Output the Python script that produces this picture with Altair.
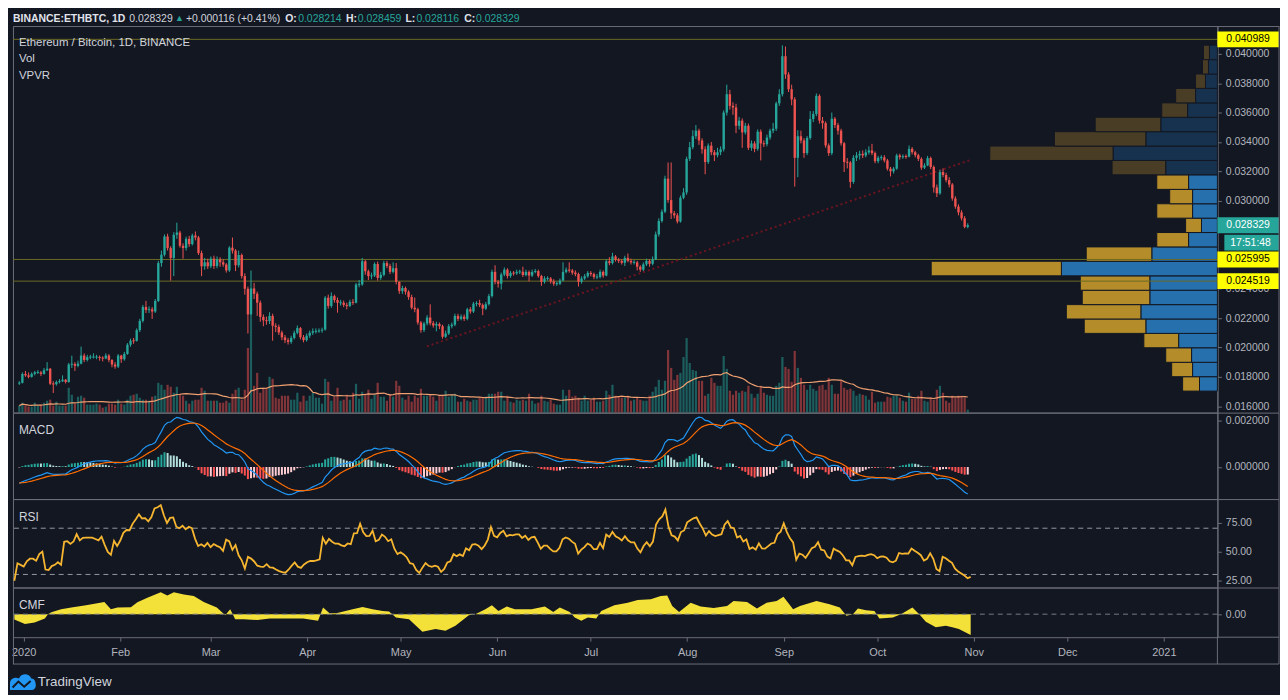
import altair as alt
import numpy as np
import pandas as pd

# ---------------------------------------------------------------- data
# prices in units of 0.0001 BTC, one candle per day from 2019-12-29
FIRST_DAY = "2019-12-29"
FIRST_OPEN = 175.5

close_dec = [176.0, 182.0, 181.0]
high_dec = [177.0, 183.0, 184.0]
low_dec = [174.5, 175.5, 180.0]
vol_dec = [7, 10, 7]

close_jan = [180.0, 182.0, 183.0, 183.0, 182.0, 184.5, 185.5, 175.3, 175.0, 176.5, 177.0, 178.0, 176.5, 188.4, 188.8, 187.5, 189.0, 194.5, 191.5, 193.4, 193.5, 193.5, 193.5, 193.0, 192.5, 194.5, 191.5, 188.4, 187.0, 194.5, 192.0]
high_jan = [183, 183, 184, 184.5, 184, 186, 190, 186, 177, 177.5, 178.5, 181, 178.5, 189.5, 194.4, 190, 191, 200.6, 196, 195, 195, 196, 195, 194.5, 194, 196, 195.5, 192, 190, 195.5, 195]
low_jan = [179, 179.5, 181, 182, 180.5, 181.5, 184, 174.5, 169, 174, 175.5, 176.5, 175.5, 176, 186, 184, 186.5, 188.5, 190, 190.5, 192, 192.5, 192, 191, 190.5, 192, 190, 186.5, 185.5, 186, 189.5]
vol_jan = [6, 6, 10, 7, 8, 10, 12, 13, 7, 11, 7, 7, 7, 25, 18, 9, 16, 17, 15, 8, 8, 8, 9, 8, 5, 6, 9, 9, 8, 13, 9]

close_feb = [195.6, 201.9, 204.6, 204.5, 211.8, 218.1, 227.6, 225.5, 226.0, 224.5, 231.7, 257.5, 263.2, 275.6, 267.7, 261.0, 276.7, 278.3, 269.3, 267.7, 274.0, 270.4, 276.3, 274.9, 264.3, 255.3, 258.0, 255.3, 260.5]
high_feb = [197, 203, 206, 206.5, 213, 219.5, 229, 231.7, 228, 227.5, 233, 259, 266, 277, 277.5, 269, 278.5, 285, 279.5, 271, 275.5, 276, 277.5, 279, 276, 266, 261, 260.5, 262]
low_feb = [191, 195, 200.5, 202.5, 204, 210.5, 217, 223.5, 223.5, 219.5, 223.5, 231, 255, 262, 266, 245.5, 248.6, 274, 268, 260.5, 266, 268.5, 269.5, 273, 263, 248.6, 253, 253.5, 254]
vol_feb = [8, 13, 17, 18, 19, 15, 13, 13, 12, 16, 17, 30, 28, 23, 28, 26, 20, 26, 19, 17, 12, 9, 12, 13, 13, 25, 22, 12, 12]

close_mar = [255.5, 260.0, 258.0, 256.5, 252.5, 268.0, 266.0, 256.0, 263.0, 248.6, 240.0, 222.5, 240.2, 236.6, 230.5, 220.8, 218.5, 218.0, 221.5, 214.8, 214.0, 210.2, 206.9, 205.0, 203.8, 206.5, 210.0, 213.2, 207.0, 205.0, 208.0]
high_mar = [262.5, 262, 261.5, 260, 257.5, 269, 274.9, 267, 266, 264, 250.5, 241.5, 252.4, 244, 238, 232, 222.5, 221, 224, 223, 216.5, 215.5, 211.5, 208.5, 206.5, 208, 211.5, 215, 214, 208.5, 209.5]
low_mar = [253.5, 254, 255, 255, 251, 251.5, 264, 252, 254.5, 247, 236, 209.5, 220, 233, 221.5, 217.5, 214.5, 215.5, 216, 204.6, 210.5, 208.5, 205, 203, 202, 202.5, 205.5, 209, 205.5, 203.5, 204]
vol_mar = [12, 12, 10, 10, 12, 10, 19, 23, 25, 13, 23, 65, 95, 27, 40, 20, 25, 25, 36, 34, 15, 14, 17, 17, 17, 13, 13, 20, 11, 17, 12]

close_apr = [210.0, 211.0, 211.0, 211.5, 212.2, 233.9, 228.3, 235.0, 232.3, 230.5, 230.5, 229.0, 228.3, 231.0, 230.5, 242.9, 243.0, 258.7, 251.9, 248.6, 249.0, 256.9, 247.4, 249.5, 257.5, 255.5, 251.5, 254.0, 244.7, 238.4]
high_apr = [211.5, 213, 213, 213, 213.5, 235, 236, 237.5, 236, 234, 232.5, 232, 230.5, 232.5, 233, 244, 246, 261, 259.5, 253, 251, 258, 258.5, 251.5, 259, 259, 257, 258, 257.5, 245]
low_apr = [206.5, 208.5, 209.5, 210, 210, 211.5, 226.5, 227, 230.5, 223.7, 228.5, 227.5, 226, 227.5, 229, 230, 241, 242, 249.5, 246, 246.5, 248, 245.5, 246, 248.5, 254, 250, 250.5, 243, 236.5]
vol_apr = [17, 20, 15, 15, 9, 34, 31, 12, 16, 25, 12, 13, 18, 13, 20, 29, 14, 21, 19, 23, 14, 18, 30, 16, 16, 12, 18, 16, 32, 27]

close_may = [240.5, 238.0, 234.4, 227.1, 226.0, 217.0, 211.8, 216.3, 220.4, 216.5, 215.0, 216.0, 214.5, 207.3, 209.5, 214.5, 215.5, 221.5, 219.5, 221.0, 219.5, 226.0, 224.5, 229.8, 230.2, 229.0, 226.5, 229.5, 235.0, 251.5, 244.7]
high_may = [242, 241.5, 239, 236, 234, 227, 218, 217.5, 222, 229.4, 218, 217.5, 217, 215.5, 211.5, 216, 217, 223, 223, 222.5, 222.5, 227, 227.5, 231, 231.5, 232.5, 230, 231, 236.5, 253, 256]
low_may = [236.5, 236, 232.5, 226, 224, 215.5, 210, 210.5, 215, 215, 213.5, 211, 212.5, 206, 206.5, 208.5, 213, 214.5, 218, 218.5, 218, 218.5, 223, 223.5, 228, 227.5, 222, 225.5, 228.5, 234, 243]
vol_may = [15, 13, 17, 11, 17, 15, 24, 17, 17, 18, 16, 12, 17, 17, 22, 16, 18, 19, 11, 11, 14, 12, 11, 13, 13, 15, 15, 16, 19, 19, 19]

close_jun = [243.5, 249.7, 253.0, 248.7, 250.8, 250.5, 251.5, 251.5, 249.3, 251.5, 249.0, 251.5, 252.0, 248.7, 244.7, 247.0, 247.0, 245.0, 243.5, 243.5, 245.6, 251.5, 253.0, 252.4, 251.0, 250.0, 244.7, 247.0, 248.5, 250.8]
high_jun = [246, 251, 254.5, 254, 252, 252, 253, 253, 255, 253, 252.5, 253, 253.5, 253, 249.5, 248.5, 248.5, 248, 246.5, 245, 247, 258, 254.5, 258, 253.5, 252.5, 251, 248.5, 250, 252]
low_jun = [240.8, 239.5, 248.5, 247, 247.5, 249, 249.5, 250, 248, 248.5, 245, 248, 250.5, 247.5, 242, 243.5, 245.5, 243.5, 242, 242, 242.5, 245, 250.5, 251, 249.5, 248.5, 241.5, 243.5, 246, 247.5]
vol_jun = [21, 21, 12, 17, 11, 10, 13, 12, 13, 12, 19, 12, 9, 10, 17, 12, 11, 13, 9, 8, 8, 23, 17, 23, 16, 17, 15, 12, 17, 12]

close_jul = [250.0, 248.0, 248.0, 251.5, 249.0, 258.7, 257.5, 262.0, 259.8, 259.0, 257.7, 261.0, 259.0, 258.0, 258.0, 255.0, 253.0, 256.6, 259.0, 257.0, 260.0, 277.0, 286.2, 292.5, 315.0, 300.4, 291.4, 290.0, 285.8, 302.0, 305.6]
high_jul = [252, 251, 250, 253, 252.5, 260, 261.5, 264.5, 263, 261, 260, 262.5, 264, 260.5, 259.5, 259, 256, 258, 260.5, 260, 262, 279, 288, 294, 317, 326, 326, 293, 291.5, 303.5, 308.5]
low_jul = [248.5, 246.5, 246.5, 247, 247.5, 248.5, 256, 256.5, 258.5, 257.5, 256.5, 255.5, 258, 256.5, 256.5, 252.5, 251.5, 252, 255.5, 255, 256, 259.5, 275.5, 285, 291.5, 298.5, 287.5, 288, 284.5, 285, 301]
vol_jul = [13, 15, 11, 11, 12, 22, 18, 28, 17, 16, 15, 15, 17, 12, 13, 15, 13, 12, 12, 17, 21, 26, 33, 23, 32, 63, 45, 33, 38, 40, 56]

close_aug = [328.5, 336.4, 343.9, 347.7, 341.0, 335.0, 326.3, 337.5, 333.0, 331.0, 333.0, 335.0, 360.0, 372.5, 364.6, 363.5, 351.0, 354.5, 346.5, 351.0, 336.0, 339.0, 335.3, 347.0, 339.0, 338.5, 343.0, 347.7, 349.0, 366.3, 372.5]
high_aug = [330, 340, 348, 351.5, 349, 342.5, 337, 339, 340, 334.5, 336, 337, 361.5, 379, 375.5, 367, 366, 357, 356, 353, 352.5, 341, 340.5, 348.5, 348.5, 341, 345, 349, 353, 367.5, 375.9]
low_aug = [304, 327, 335, 342, 338, 332, 318, 325, 331, 327, 329.5, 331, 333.5, 358, 362, 358.5, 346, 348.5, 336, 345, 334.5, 334, 333, 334, 327.4, 336.5, 337, 341.5, 346, 347.5, 364.5]
vol_aug = [75, 50, 43, 42, 32, 32, 17, 19, 35, 30, 27, 27, 57, 44, 22, 18, 22, 20, 22, 21, 27, 19, 15, 19, 27, 20, 18, 17, 17, 27, 30]

close_sep = [398.4, 386.0, 375.9, 369.0, 329.2, 343.9, 341.0, 332.4, 342.7, 355.6, 359.0, 371.4, 354.5, 352.8, 337.6, 332.4, 355.8, 351.5, 347.7, 339.1, 326.3, 326.0, 312.8, 329.2, 330.8, 331.9, 330.8, 332.9, 334.2, 332.4]
high_sep = [405.8, 405, 387.5, 379, 370.5, 348, 347.7, 342.5, 344, 361, 361, 373, 372.5, 357, 354, 339, 360, 357, 353, 349, 340, 329, 327, 331, 333.1, 334, 334.2, 335, 337, 338.7]
low_sep = [371, 383, 374, 365, 309.6, 316, 339, 329.2, 331, 341.5, 353.5, 357.5, 352.5, 349, 336, 330.5, 331, 349.5, 345, 337.5, 319.5, 322, 308.8, 311.5, 327, 328, 329, 329.5, 331.5, 331]
vol_sep = [56, 46, 44, 31, 62, 45, 35, 28, 23, 28, 24, 22, 27, 28, 23, 35, 28, 19, 19, 32, 25, 23, 24, 22, 17, 19, 18, 17, 13, 21]

close_oct = [326.9, 329.2, 329.5, 327.4, 321.8, 320.0, 321.8, 330.8, 329.7, 330.2, 330.0, 335.3, 333.0, 331.0, 328.5, 322.5, 324.0, 329.0, 323.0, 309.0, 305.0, 319.5, 317.5, 314.0, 311.0, 301.5, 296.0, 292.0, 288.0, 282.14, 283.29]
high_oct = [333.5, 330.5, 331, 331, 328.5, 323, 323, 332, 332, 331.5, 331.5, 337.6, 336.5, 334, 332, 329.5, 325.5, 330.5, 330, 324, 311, 321, 322, 319, 316, 312, 303, 297.5, 293.5, 289.5, 284.59]
low_oct = [325.5, 325.5, 327.5, 326, 320.5, 316.5, 318.5, 321, 328, 328.5, 328.5, 329.5, 331.5, 329.5, 327, 321, 321.5, 323.5, 321.5, 305.5, 302.5, 304, 316, 312.5, 309, 300, 294.5, 290, 286.5, 281.2, 281.16]
vol_oct = [10, 11, 11, 11, 16, 15, 17, 17, 15, 12, 11, 20, 14, 14, 17, 22, 12, 11, 15, 13, 23, 27, 20, 12, 10, 17, 15, 17, 17, 15, 3]

# indicator state at the first candle
EMA12_SEED, EMA26_SEED, SIGNAL_SEED = 180.5, 187.7, -6.8
RSI_GAIN_SEED, RSI_LOSS_SEED = 0.45, 1.5

# VPVR rows, bottom to top (row edges in 0.0001 BTC; widths as drawn)
vp_edges = [170.3, 180.1, 189.9, 199.8, 209.6, 219.4, 229.2, 239.0, 248.8, 258.7, 268.5, 278.3, 288.1,
            297.9, 307.7, 317.6, 327.4, 337.2, 347.0, 356.8, 366.6, 376.5, 386.3, 396.1, 405.9]
vp_up = [18, 25, 26, 39, 72, 77, 68, 68, 157, 66, 29, 16, 25, 25, 29, 52, 105, 72, 57, 30, 22, 12, 9, 8]
vp_down = [17, 21, 26, 35, 62, 75, 68, 70, 131, 66, 32, 16, 36, 23, 32, 54, 124, 92, 66, 26, 20, 10, 6, 6]
vp_value_area = [1] * 15 + [0] * 9

# Chaikin money flow (day offset from 2020-01-01, value)
cmf_day = [-3, 0.4, 3.5, 6.8, 7.8, 8.9, 12, 15.3, 20, 25.9, 28, 30.1, 34.4, 36.5, 39.7, 44, 46.1, 48.2, 51.4, 54.6,
           57.8, 62, 64.7, 66.3, 67.9, 70.6, 75, 79, 85.4, 89.7, 94.5, 96.1, 98.2, 100.3, 105.6, 108.8, 112, 115.2,
           117.3, 119.5, 123.7, 128, 132.2, 135.4, 138.6, 142.9, 145, 148.2, 150.3, 152.4, 155.1, 157.7, 163, 167.3,
           170, 172.1, 175.3, 176.9, 179, 181.1, 183.8, 185.4, 189.6, 193.9, 197.1, 201.3, 204.5, 206.6, 208.2,
           210.4, 214.1, 217.3, 221.5, 225.8, 227.9, 232.2, 235.4, 238.5, 241.7, 243.9, 247, 249.2, 254.5, 258.7,
           262, 264.1, 266.2, 267.8, 270.4, 273.1, 274.7, 279, 281.6, 285.3, 287.5, 289.6, 292.8, 296, 298.1,
           300.2, 304]
cmf_val = [-5.5, -10, -8.3, -4.3, 0, 2, 5, 6.7, 9, 12.3, 5, 6.7, 7, 12, 16.7, 22.3, 19, 22.3, 20, 18.3, 12.3, 6.7,
           -1, 5, -5, -5, -6, -4.3, -4.3, -4.3, -6.7, 6.7, 1, 1, 5, 7.3, 5, 3.3, 2.7, -3.3, -5, -17.7, -15, -16.7,
           -11.7, -1, 0, 5, 9, 3.3, 7.7, 5, 5, 7.7, 2.3, 6.7, 2.3, -3.3, -6.7, -3.3, -4.3, 3.3, 9, 11.7, 14.3, 15,
           18.3, 19, 8.3, 2.3, 11.7, 7.7, 6.3, 8.3, 13.3, 12.3, 5.7, 11.7, 13.3, 17.7, 5, 8.3, 13.3, 10, 6.7, -1.7,
           0, 5.7, 4, 3.3, -4.3, -3.3, 0, 6.7, 0, -7.7, -13.3, -11.7, -13.3, -15, -21]

level_prices = [0.040989, 0.025995, 0.024519]
trend_day = [128.93, 305.33]
trend_price = [0.020078, 0.032804]
last_price = 0.028329
countdown_text = "17:51:48"
countdown_price = 0.027139

# price labels that the price tags leave visible (0.026 and 0.028 sit under the tags)
price_ticks = [0.016, 0.018, 0.020, 0.022, 0.024, 0.030, 0.032, 0.034, 0.036, 0.038, 0.040]
month_starts = ["2020-01-01", "2020-02-01", "2020-03-01", "2020-04-01", "2020-05-01", "2020-06-01", "2020-07-01",
                "2020-08-01", "2020-09-01", "2020-10-01", "2020-11-01", "2020-12-01", "2021-01-01"]
month_labels = ["2020", "Feb", "Mar", "Apr", "May", "Jun", "Jul", "Aug", "Sep", "Oct", "Nov", "Dec", "2021"]

header_bold = [("BINANCE:ETHBTC, 1D", 0), ("O:", 274), ("H:", 335), ("L:", 395), ("C:", 454)]
header_plain = [("0.028329", 117, "txt"), ("+0.000116 (+0.41%)", 174, "txt"), ("0.028214", 287, "up"),
                ("0.028459", 347, "up"), ("0.028116", 406, "up"), ("0.028329", 466, "up")]
legend_lines = ["Ethereum / Bitcoin, 1D, BINANCE", "Vol", "VPVR"]

# ---------------------------------------------------------------- styling
BG = "#131722"
TXT = "#d1d4dc"
AXT = "#b2b5be"
BORDER = "#6b6e78"
UP = "#26a69a"
DN = "#ef5350"
LEVEL = "#6b6a22"
TREND = "#6e1420"
VOLMA = "#f0a070"
FONT = "Liberation Sans, Arial, sans-serif"
AX_FS = 10.5

W, AXW = 1212, 62
H_HEAD, H_MAIN, H_MACD, H_RSI, H_CMF = 15, 389, 87, 89, 50
XDOM = [-3.44, 383.2]

# ---------------------------------------------------------------- frames
closes = close_dec + close_jan + close_feb + close_mar + close_apr + close_may + close_jun + close_jul + close_aug + close_sep + close_oct
highs = high_dec + high_jan + high_feb + high_mar + high_apr + high_may + high_jun + high_jul + high_aug + high_sep + high_oct
lows = low_dec + low_jan + low_feb + low_mar + low_apr + low_may + low_jun + low_jul + low_aug + low_sep + low_oct
vols = vol_dec + vol_jan + vol_feb + vol_mar + vol_apr + vol_may + vol_jun + vol_jul + vol_aug + vol_sep + vol_oct
n = min(len(closes), len(highs), len(lows), len(vols))
closes, highs, lows, vols = closes[:n], highs[:n], lows[:n], vols[:n]
opens = [FIRST_OPEN] + closes[:-1]
dates = pd.date_range(FIRST_DAY, periods=n, freq="D")
origin = pd.Timestamp("2020-01-01")

df = pd.DataFrame({
    "day": [(d - origin).days for d in dates],
    "open": np.array(opens) / 1e4, "close": np.array(closes) / 1e4,
    "high": np.array(highs) / 1e4, "low": np.array(lows) / 1e4,
    "vol": vols,
})
df["dir"] = np.where(df["close"] >= df["open"], "up", "down")
top = np.maximum(df["open"], df["close"])
bot = np.minimum(df["open"], df["close"])
mid = (top + bot) / 2
thin = (top - bot) < 0.00007
df["btop"] = np.where(thin, mid + 0.000035, top)
df["bbot"] = np.where(thin, mid - 0.000035, bot)
df["vol_ma"] = df["vol"].rolling(20, min_periods=1).mean()
df["zero"] = 0.0

# MACD (12, 26, 9) and RSI (14) from the closes
e12, e26, sig = EMA12_SEED, EMA26_SEED, SIGNAL_SEED
ag, al = RSI_GAIN_SEED, RSI_LOSS_SEED
prev = FIRST_OPEN
prev_hist = EMA12_SEED - EMA26_SEED - SIGNAL_SEED
m_l, s_l, h_l, hc_l, r_l = [], [], [], [], []
for c in closes:
    e12 += (c - e12) * 2 / 13
    e26 += (c - e26) * 2 / 27
    m = e12 - e26
    sig += (m - sig) * 2 / 10
    h = m - sig
    if h >= 0:
        hc = "#26a69a" if h > prev_hist else "#b2dfdb"
    else:
        hc = "#ffcdd2" if h > prev_hist else "#ff5252"
    prev_hist = h
    ch = c - prev
    prev = c
    ag = (ag * 13 + max(ch, 0)) / 14
    al = (al * 13 + max(-ch, 0)) / 14
    r = 100 - 100 / (1 + ag / al) if al > 0 else 100
    m_l.append(m / 1e4); s_l.append(sig / 1e4); h_l.append(h / 1e4); hc_l.append(hc); r_l.append(r)
df["macd"], df["signal"], df["hist"], df["hcol"], df["rsi"] = m_l, s_l, h_l, hc_l, r_l

vp_rows = []
for i in range(len(vp_up)):
    lo, hi = vp_edges[i] / 1e4, vp_edges[i + 1] / 1e4
    bright = vp_value_area[i] == 1
    vp_rows.append({"a": 0, "b": vp_up[i], "lo": lo, "hi": hi, "col": "#2670ae" if bright else "#17324e"})
    vp_rows.append({"a": vp_up[i], "b": vp_up[i] + vp_down[i], "lo": lo, "hi": hi, "col": "#b48c2a" if bright else "#4a3d25"})
vp_df = pd.DataFrame(vp_rows)

cmf_df = pd.DataFrame({"day": cmf_day, "v": np.array(cmf_val) / 100.0, "z": 0.0})
lvl_df = pd.DataFrame({"p": level_prices})
trend_df = pd.DataFrame({"day": trend_day, "p": trend_price})
tag_df = pd.DataFrame({
    "p": [level_prices[0], last_price, level_prices[1], level_prices[2]],
    "bg": ["#ffff00", UP, "#ffff00", "#ffff00"],
    "fg": ["#000000", "#ffffff", "#000000", "#000000"],
})
tag_df["t"] = tag_df["p"].map(lambda v: f"{v:.6f}")
cd_df = pd.DataFrame({"p": [countdown_price], "t": [countdown_text]})
one = pd.DataFrame({"k": [0]})

# ---------------------------------------------------------------- helpers
def X(axis=None):
    return alt.X("day:Q", scale=alt.Scale(domain=XDOM, nice=False, zero=False), axis=axis)


def hrule(y, x0, x1, color=BORDER):
    return alt.Chart(one).mark_rule(color=color, strokeWidth=1).encode(
        x=alt.value(x0), x2=alt.value(x1), y=alt.value(y))


def vrule(x, y0, y1, color=BORDER):
    return alt.Chart(one).mark_rule(color=color, strokeWidth=1).encode(
        x=alt.value(x), y=alt.value(y0), y2=alt.value(y1))


def label(text, x, y, size=11, color=TXT, weight="normal"):
    return alt.Chart(one).mark_text(align="left", baseline="middle", font=FONT, fontSize=size,
                                    color=color, fontWeight=weight).encode(
        x=alt.value(x), y=alt.value(y), text=alt.value(text))


def yaxis(values, fmt):
    return alt.Axis(orient="right", values=values, format=fmt, title=None, grid=False,
                    labelColor=AXT, labelFont=FONT, labelFontSize=AX_FS, labelPadding=4,
                    tickColor=BORDER, tickSize=4, domainColor=BORDER, labelOverlap=False)


dir_scale = alt.Scale(domain=["up", "down"], range=[UP, DN])

# ---------------------------------------------------------------- header
hdr = [label(t, x, 7.5, size=10.5, color="#e0e3eb", weight="bold") for t, x in header_bold]
hdr += [label(t, x, 7.5, size=10.5, color=(UP if c == "up" else TXT)) for t, x, c in header_plain]
hdr.append(label("\u25b2", 163, 7, size=9, color=UP))
header = alt.layer(*hdr).properties(width=W, height=H_HEAD, view=alt.ViewBackground(stroke="transparent"))

# ---------------------------------------------------------------- main pane
ys = alt.Scale(domain=[0.015563, 0.041895], nice=False, zero=False)
pa = yaxis(price_ticks, ".6f")
vol_scale = alt.Scale(domain=[0, H_MAIN], nice=False, zero=False)

vol_bars = alt.Chart(df).mark_bar(size=2.2, opacity=0.5).encode(
    x=X(), y=alt.Y("vol:Q", scale=vol_scale, axis=None), y2="zero:Q",
    color=alt.Color("dir:N", scale=dir_scale, legend=None))
vol_ma = alt.Chart(df).mark_line(color=VOLMA, strokeWidth=1.2).encode(
    x=X(), y=alt.Y("vol_ma:Q", scale=vol_scale, axis=None))
vol_group = alt.layer(vol_bars, vol_ma)

vp_group = alt.layer(alt.Chart(vp_df).mark_rect(stroke=BG, strokeWidth=1).encode(
    x=alt.X("a:Q", scale=alt.Scale(domain=[0, W], reverse=True, nice=False, zero=False), axis=None),
    x2="b:Q",
    y=alt.Y("lo:Q", scale=ys, axis=None), y2="hi:Q",
    color=alt.Color("col:N", scale=None)))

levels = alt.Chart(lvl_df).mark_rule(color=LEVEL, strokeWidth=1).encode(y=alt.Y("p:Q", scale=ys, axis=pa))
trend = alt.Chart(trend_df).mark_line(color=TREND, strokeWidth=2, strokeDash=[2, 3]).encode(
    x=X(), y=alt.Y("p:Q", scale=ys, axis=pa))
wick = alt.Chart(df).mark_rule(strokeWidth=1).encode(
    x=X(), y=alt.Y("low:Q", scale=ys, axis=pa), y2="high:Q",
    color=alt.Color("dir:N", scale=dir_scale, legend=None))
body = alt.Chart(df).mark_bar(size=2.4).encode(
    x=X(), y=alt.Y("btop:Q", scale=ys, axis=pa), y2="bbot:Q",
    color=alt.Color("dir:N", scale=dir_scale, legend=None))
tags = alt.Chart(tag_df).mark_tick(orient="horizontal", thickness=16, size=AXW, opacity=1).encode(
    x=alt.value(W + AXW / 2), y=alt.Y("p:Q", scale=ys, axis=pa), color=alt.Color("bg:N", scale=None))
tag_txt = alt.Chart(tag_df).mark_text(align="left", baseline="middle", font=FONT, fontSize=AX_FS).encode(
    x=alt.value(W + 9), y=alt.Y("p:Q", scale=ys, axis=pa), text="t:N", color=alt.Color("fg:N", scale=None))
cd_box = alt.Chart(cd_df).mark_tick(orient="horizontal", thickness=16, size=55, opacity=1, color=UP).encode(
    x=alt.value(W + 34.5), y=alt.Y("p:Q", scale=ys, axis=pa))
cd_txt = alt.Chart(cd_df).mark_text(align="left", baseline="middle", font=FONT, fontSize=AX_FS, color="#ffffff").encode(
    x=alt.value(W + 13), y=alt.Y("p:Q", scale=ys, axis=pa), text="t:N")

legend = [label(t, 6, 17 + 16.5 * i, size=11.5) for i, t in enumerate(legend_lines)]
price_group = alt.layer(levels, trend, wick, body, tags, tag_txt, cd_box, cd_txt, *legend,
                        hrule(0.5, W, W + AXW), vrule(W + AXW, 0, H_MAIN))

main = alt.layer(vol_group, vp_group, price_group).resolve_scale(
    x="independent", y="independent", color="independent").properties(width=W, height=H_MAIN)

# ---------------------------------------------------------------- MACD
ms = alt.Scale(domain=[-0.001374, 0.002328], nice=False, zero=False)
ma = yaxis([0.0, 0.002], ".6f")
hist = alt.Chart(df).mark_bar(size=2).encode(
    x=X(), y=alt.Y("hist:Q", scale=ms, axis=ma), y2="zero:Q", color=alt.Color("hcol:N", scale=None))
macd_line = alt.Chart(df).mark_line(color="#2196f3", strokeWidth=1.2).encode(x=X(), y=alt.Y("macd:Q", scale=ms, axis=ma))
sig_line = alt.Chart(df).mark_line(color="#ff6d00", strokeWidth=1.2).encode(x=X(), y=alt.Y("signal:Q", scale=ms, axis=ma))
macd = alt.layer(hist, macd_line, sig_line, label("MACD", 6, 18, size=12),
                 hrule(0.5, W, W + AXW), vrule(W + AXW, 0, H_MACD)).properties(width=W, height=H_MACD)

# ---------------------------------------------------------------- RSI
rs = alt.Scale(domain=[18.7, 95.2], nice=False, zero=False)
ra = yaxis([25, 50, 75], ".2f")
bands = alt.Chart(pd.DataFrame({"v": [70, 30]})).mark_rule(color="#9598a1", strokeDash=[5, 4], strokeWidth=1).encode(
    y=alt.Y("v:Q", scale=rs, axis=ra))
rsi_line = alt.Chart(df).mark_line(color="#f7b630", strokeWidth=1.8).encode(x=X(), y=alt.Y("rsi:Q", scale=rs, axis=ra))
rsi = alt.layer(bands, rsi_line, label("RSI", 6, 18, size=12),
                hrule(0.5, W, W + AXW), vrule(W + AXW, 0, H_RSI)).properties(width=W, height=H_RSI)

# ---------------------------------------------------------------- CMF + time axis
month_days = [(pd.Timestamp(s) - origin).days for s in month_starts]
ticks_js = "[" + ",".join(str(v) for v in month_days) + "]"
labs_js = "[" + ",".join("'" + s + "'" for s in month_labels) + "]"
time_axis = alt.Axis(orient="bottom", values=month_days, labelExpr=f"{labs_js}[indexof({ticks_js}, datum.value)]",
                     tickSize=4, tickColor=BORDER, labelColor=AXT, labelFont=FONT, labelFontSize=11,
                     labelPadding=5, domain=False, grid=False, labelFlush=False, title=None, labelOverlap=False)
cs = alt.Scale(domain=[-0.233, 0.27], nice=False, zero=False)
ca = yaxis([0.0], ".2f")
cmf_area = alt.Chart(cmf_df).mark_area(color="#ffeb3b", opacity=0.95).encode(
    x=X(time_axis), y=alt.Y("v:Q", scale=cs, axis=ca), y2="z:Q")
cmf_zero = alt.Chart(pd.DataFrame({"v": [0.0]})).mark_rule(color="#787b86", strokeDash=[5, 4], strokeWidth=1).encode(
    y=alt.Y("v:Q", scale=cs, axis=ca))

cloud = ("M-1,0.55 L-1,0.05 C-1,-0.35 -0.6,-0.5 -0.3,-0.35 C-0.15,-0.75 0.45,-0.8 0.65,-0.35 "
         "C0.95,-0.35 1,0 1,0.2 C1,0.4 0.85,0.55 0.7,0.55 Z")
zigzag = "M-0.8,0.35 L-0.35,-0.1 L0.1,0.3 L0.6,-0.15"
logo = alt.Chart(one).mark_point(shape=cloud, size=676, filled=True, color="#2196f3", opacity=1).encode(
    x=alt.value(10), y=alt.value(96))
logo_line = alt.Chart(one).mark_point(shape=zigzag, size=676, filled=False, color=BG, strokeWidth=2, opacity=1).encode(
    x=alt.value(10), y=alt.value(96))

cmf = alt.layer(cmf_area, cmf_zero, label("CMF", 6, 18, size=12),
                hrule(0.5, W, W + AXW), hrule(H_CMF, W, W + AXW), vrule(W + AXW, 0, H_CMF + 27),
                hrule(H_CMF + 27, 0, W + AXW), vrule(0.5, H_CMF, H_CMF + 27), vrule(W, H_CMF, H_CMF + 27),
                logo, logo_line,
                label("TradingView", 25, 95.5, size=13.5)).properties(width=W, height=H_CMF)

chart = alt.vconcat(header, main, macd, rsi, cmf, spacing=0, bounds="flush").properties(
    padding=0, background=BG).configure_view(stroke=BORDER, strokeWidth=1)

chart.save("out.html", embed_options={"renderer": "svg", "actions": False})
